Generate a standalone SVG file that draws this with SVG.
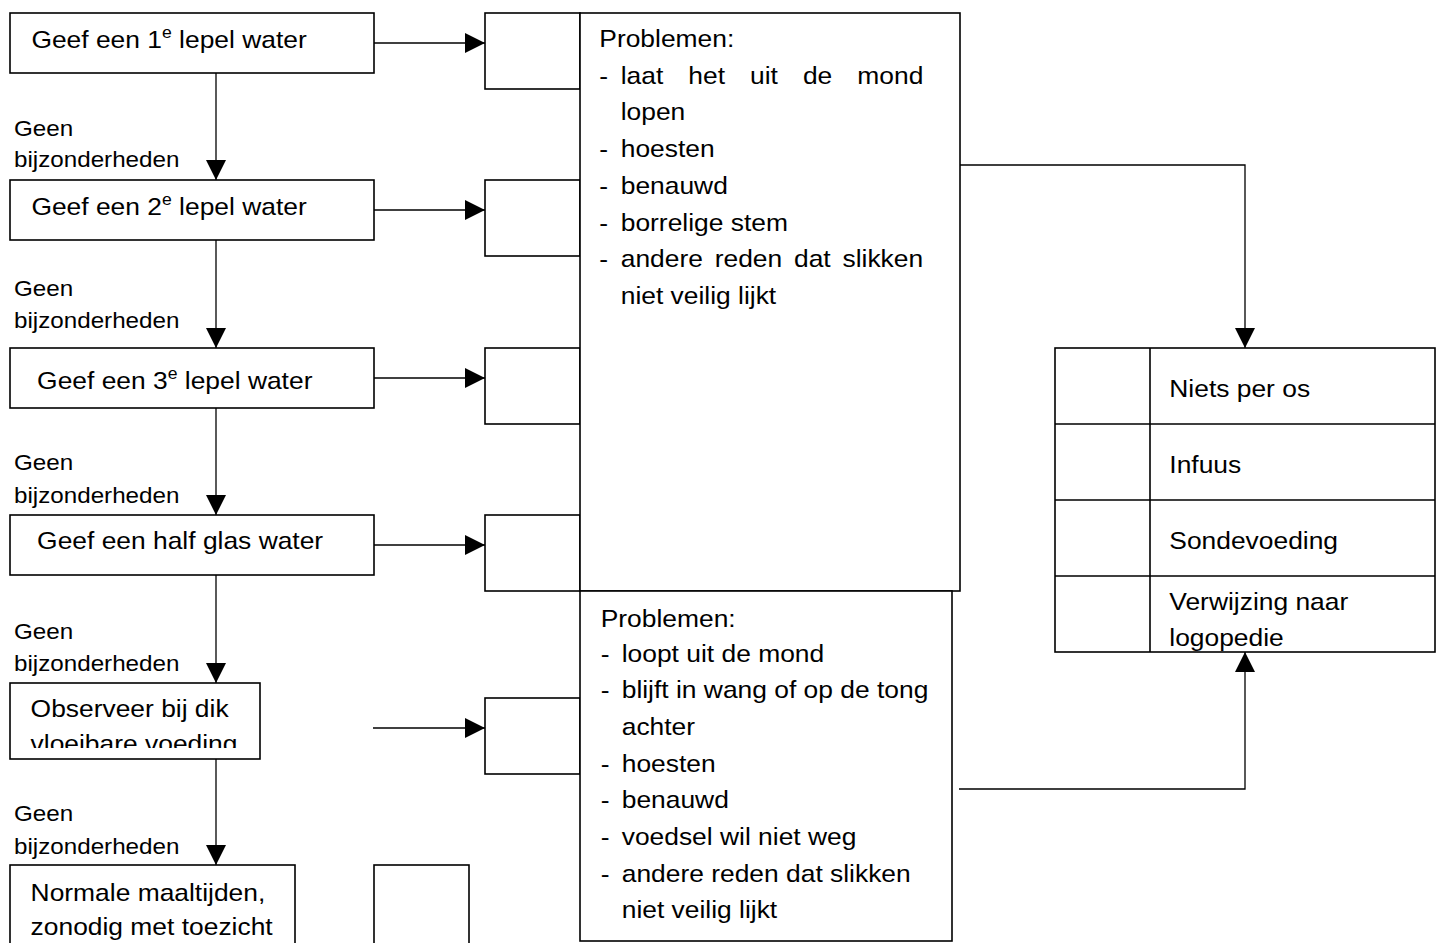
<svg xmlns="http://www.w3.org/2000/svg" width="1442" height="943" viewBox="0 0 1442 943">
<style>
.box{fill:#fff;stroke:#000;stroke-width:1.6}
.ln{fill:none;stroke:#000;stroke-width:1.6}
.con{fill:none;stroke:#000;stroke-width:1.3;marker-end:url(#ah)}
.t{font-family:"Liberation Sans",Arial,sans-serif;font-size:24px;fill:#000}
.s{font-family:"Liberation Sans",Arial,sans-serif;font-size:22px;fill:#000}
</style>
<defs>
<marker id="ah" markerUnits="userSpaceOnUse" markerWidth="20" markerHeight="20" refX="20" refY="10" orient="auto" viewBox="0 0 20 20">
<path d="M0,0 L20,10 L0,20 Z" fill="#000"/>
</marker>
<clipPath id="c5"><rect x="10" y="683" width="250" height="65"/></clipPath>
<clipPath id="c6"><rect x="10" y="865" width="286" height="78"/></clipPath>
</defs>
<rect width="1442" height="943" fill="#fff"/>

<g id="connectors">
<path class="con" d="M216,73 V180"/>
<path class="con" d="M216,240 V348"/>
<path class="con" d="M216,408 V515"/>
<path class="con" d="M216,575 V683"/>
<path class="con" d="M216,759 V865"/>
<path class="con" d="M374,43 H485"/>
<path class="con" d="M374,210 H485"/>
<path class="con" d="M374,378 H485"/>
<path class="con" d="M374,545 H485"/>
<path class="con" d="M373,728 H485"/>
<path class="con" d="M960,165 H1245 V348"/>
<path class="con" d="M959,789 H1245 V652"/>
</g>

<g id="step1">
<rect class="box" x="10" y="13" width="364" height="60"/>
<text class="t" transform="translate(31.4 47.7) scale(1.1 1)">Geef een 1<tspan font-size="16" dy="-10">e</tspan><tspan dy="10"> lepel water</tspan></text>
</g>
<g id="label1">
<text class="s" transform="translate(14 136) scale(1.1 1)">Geen</text>
<text class="s" transform="translate(14 167) scale(1.1 1)">bijzonderheden</text>
</g>
<g id="step2">
<rect class="box" x="10" y="180" width="364" height="60"/>
<text class="t" transform="translate(31.4 215) scale(1.1 1)">Geef een 2<tspan font-size="16" dy="-10">e</tspan><tspan dy="10"> lepel water</tspan></text>
</g>
<g id="label2">
<text class="s" transform="translate(14 296) scale(1.1 1)">Geen</text>
<text class="s" transform="translate(14 328) scale(1.1 1)">bijzonderheden</text>
</g>
<g id="step3">
<rect class="box" x="10" y="348" width="364" height="60"/>
<text class="t" transform="translate(37.1 389.3) scale(1.1 1)">Geef een 3<tspan font-size="16" dy="-10">e</tspan><tspan dy="10"> lepel water</tspan></text>
</g>
<g id="label3">
<text class="s" transform="translate(14 470) scale(1.1 1)">Geen</text>
<text class="s" transform="translate(14 503) scale(1.1 1)">bijzonderheden</text>
</g>
<g id="step4">
<rect class="box" x="10" y="515" width="364" height="60"/>
<text class="t" transform="translate(37.1 549.3) scale(1.1 1)">Geef een half glas water</text>
</g>
<g id="label4">
<text class="s" transform="translate(14 639) scale(1.1 1)">Geen</text>
<text class="s" transform="translate(14 671) scale(1.1 1)">bijzonderheden</text>
</g>
<g id="step5">
<rect class="box" x="10" y="683" width="250" height="76"/>
<g clip-path="url(#c5)">
<text class="t" transform="translate(30.6 717.3) scale(1.1 1)">Observeer bij dik</text>
<text class="t" transform="translate(30.6 751.5) scale(1.1 1)">vloeibare voeding</text>
</g>
</g>
<g id="label5">
<text class="s" transform="translate(14 821) scale(1.1 1)">Geen</text>
<text class="s" transform="translate(14 854) scale(1.1 1)">bijzonderheden</text>
</g>
<g id="step6">
<rect class="box" x="10" y="865" width="285" height="90"/>
<g clip-path="url(#c6)">
<text class="t" transform="translate(30.6 901) scale(1.1 1)">Normale maaltijden,</text>
<text class="t" transform="translate(30.6 935) scale(1.1 1)">zonodig met toezicht</text>
</g>
</g>

<g id="checkboxes">
<rect class="box" x="485" y="13" width="95" height="76"/>
<rect class="box" x="485" y="180" width="95" height="76"/>
<rect class="box" x="485" y="348" width="95" height="76"/>
<rect class="box" x="485" y="515" width="95" height="76"/>
<rect class="box" x="485" y="698" width="95" height="76"/>
<rect class="box" x="374" y="865" width="95" height="90"/>
</g>

<g id="problems1">
<rect class="box" x="580" y="13" width="380" height="578"/>
<text class="t" transform="translate(599.3 46.7) scale(1.1 1)">Problemen:</text>
<text class="t" transform="translate(599.3 83.5) scale(1.1 1)">-</text>
<text class="t" transform="translate(620.7 83.5) scale(1.1 1)">laat</text>
<text class="t" transform="translate(688.3 83.5) scale(1.1 1)">het</text>
<text class="t" transform="translate(750 83.5) scale(1.1 1)">uit</text>
<text class="t" transform="translate(802.9 83.5) scale(1.1 1)">de</text>
<text class="t" transform="translate(857.3 83.5) scale(1.1 1)">mond</text>
<text class="t" transform="translate(620.7 120.3) scale(1.1 1)">lopen</text>
<text class="t" transform="translate(599.3 157) scale(1.1 1)">-</text>
<text class="t" transform="translate(620.7 157) scale(1.1 1)">hoesten</text>
<text class="t" transform="translate(599.3 193.8) scale(1.1 1)">-</text>
<text class="t" transform="translate(620.7 193.8) scale(1.1 1)">benauwd</text>
<text class="t" transform="translate(599.3 230.6) scale(1.1 1)">-</text>
<text class="t" transform="translate(620.7 230.6) scale(1.1 1)">borrelige stem</text>
<text class="t" transform="translate(599.3 267.4) scale(1.1 1)">-</text>
<text class="t" transform="translate(620.7 267.4) scale(1.1 1)">andere</text>
<text class="t" transform="translate(714.7 267.4) scale(1.1 1)">reden</text>
<text class="t" transform="translate(794 267.4) scale(1.1 1)">dat</text>
<text class="t" transform="translate(842.5 267.4) scale(1.1 1)">slikken</text>
<text class="t" transform="translate(620.7 304.2) scale(1.1 1)">niet veilig lijkt</text>
</g>

<g id="problems2">
<rect class="box" x="580" y="591" width="372" height="350"/>
<text class="t" transform="translate(600.7 626.7) scale(1.1 1)">Problemen:</text>
<text class="t" transform="translate(600.7 661.7) scale(1.1 1)">-</text>
<text class="t" transform="translate(621.7 661.7) scale(1.1 1)">loopt uit de mond</text>
<text class="t" transform="translate(600.7 698.3) scale(1.1 1)">-</text>
<text class="t" transform="translate(621.7 698.3) scale(1.1 1)">blijft in wang of op de tong</text>
<text class="t" transform="translate(621.7 735) scale(1.1 1)">achter</text>
<text class="t" transform="translate(600.7 771.7) scale(1.1 1)">-</text>
<text class="t" transform="translate(621.7 771.7) scale(1.1 1)">hoesten</text>
<text class="t" transform="translate(600.7 808.3) scale(1.1 1)">-</text>
<text class="t" transform="translate(621.7 808.3) scale(1.1 1)">benauwd</text>
<text class="t" transform="translate(600.7 845) scale(1.1 1)">-</text>
<text class="t" transform="translate(621.7 845) scale(1.1 1)">voedsel wil niet weg</text>
<text class="t" transform="translate(600.7 881.7) scale(1.1 1)">-</text>
<text class="t" transform="translate(621.7 881.7) scale(1.1 1)">andere reden dat slikken</text>
<text class="t" transform="translate(621.7 918.3) scale(1.1 1)">niet veilig lijkt</text>
</g>

<g id="outcomes">
<rect class="box" x="1055" y="348" width="380" height="304"/>
<path class="ln" d="M1150,348 V652 M1055,424 H1435 M1055,500 H1435 M1055,576 H1435"/>
<text class="t" transform="translate(1169.3 396.7) scale(1.1 1)">Niets per os</text>
<text class="t" transform="translate(1169.3 472.7) scale(1.1 1)">Infuus</text>
<text class="t" transform="translate(1169.3 549) scale(1.1 1)">Sondevoeding</text>
<text class="t" transform="translate(1169.3 610) scale(1.1 1)">Verwijzing naar</text>
<text class="t" transform="translate(1169.3 646) scale(1.1 1)">logopedie</text>
</g>
</svg>
